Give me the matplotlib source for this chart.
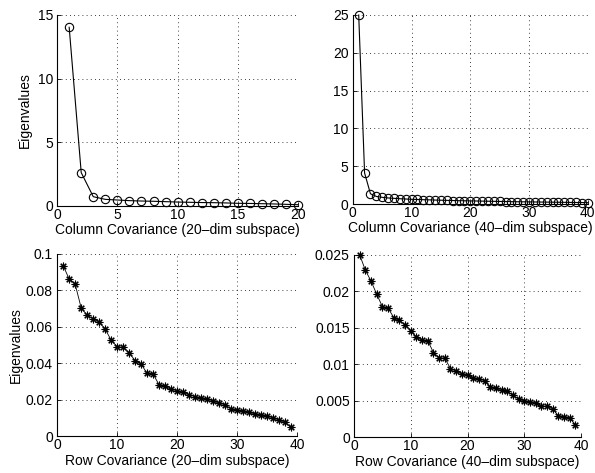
import matplotlib.pyplot as plt
from matplotlib.ticker import FuncFormatter

plt.rcParams['font.family'] = ['Liberation Sans', 'DejaVu Sans']
plt.rcParams['font.size'] = 10

# eigenvalues
col20 = [14.03, 2.62, 0.73, 0.52, 0.47, 0.42, 0.39, 0.37, 0.34, 0.31,
         0.29, 0.27, 0.26, 0.24, 0.21, 0.20, 0.18, 0.16, 0.13, 0.10]
col40 = [25.0, 4.1, 1.35, 1.0, 0.88, 0.80, 0.75, 0.70, 0.66, 0.62,
         0.60, 0.57, 0.55, 0.52, 0.50, 0.48, 0.46, 0.44, 0.43, 0.41,
         0.40, 0.38, 0.37, 0.35, 0.34, 0.33, 0.31, 0.30, 0.29, 0.28,
         0.27, 0.26, 0.25, 0.24, 0.23, 0.22, 0.21, 0.20, 0.19, 0.17]
row20 = [0.0936, 0.0863, 0.0835, 0.0705, 0.0663, 0.0645, 0.0626, 0.0588, 0.0527, 0.0491,
         0.0487, 0.0458, 0.0414, 0.0396, 0.0344, 0.0341, 0.0282, 0.0275, 0.0256, 0.0249,
         0.0240, 0.0227, 0.0216, 0.0209, 0.0203, 0.0192, 0.0180, 0.0172, 0.0150, 0.0143,
         0.0137, 0.0130, 0.0121, 0.0117, 0.0110, 0.0099, 0.0088, 0.0075, 0.0048]
row40 = [0.0250, 0.0229, 0.0214, 0.0196, 0.0179, 0.0177, 0.0164, 0.0160, 0.0154, 0.0146,
         0.0137, 0.0133, 0.0132, 0.0116, 0.0109, 0.0108, 0.0094, 0.0090, 0.0087, 0.0085,
         0.0081, 0.0080, 0.0077, 0.0069, 0.0067, 0.0064, 0.0063, 0.0057, 0.0052, 0.0050,
         0.0048, 0.0046, 0.0043, 0.0042, 0.0039, 0.0029, 0.0028, 0.0026, 0.0017]

xlabels = ['Column Covariance (20\u2013dim subspace)', 'Column Covariance (40\u2013dim subspace)',
           'Row Covariance (20\u2013dim subspace)', 'Row Covariance (40\u2013dim subspace)']


def style_axes(ax, xlim, xticks, ylim, yticks):
    ax.set_xlim(xlim)
    ax.set_ylim(ylim)
    ax.set_xticks(xticks)
    ax.set_yticks(yticks)
    ax.spines['top'].set_visible(False)
    ax.spines['right'].set_visible(False)
    ax.spines['left'].set_linewidth(0.8)
    ax.spines['bottom'].set_linewidth(0.8)
    ax.tick_params(direction='in', length=3, width=0.6)
    ax.tick_params(axis='x', pad=1.5)
    ax.tick_params(axis='y', pad=3)
    ax.grid(True, color='black', linestyle=(0, (1, 4)), linewidth=0.6)
    ax.set_axisbelow(True)


fig = plt.figure(figsize=(5.95, 4.73), dpi=100)

ax1 = fig.add_axes([0.096, 0.5645, 0.405, 0.404])
ax1.plot(range(1, len(col20) + 1), col20, 'k-', lw=0.8, marker='o', mfc='none',
         mec='black', ms=6, mew=0.8, clip_on=False, zorder=3)
style_axes(ax1, (0, 20), [0, 5, 10, 15, 20], (0, 15), [0, 5, 10, 15])
ax1.set_ylabel('Eigenvalues', labelpad=4)
ax1.set_xlabel(xlabels[0], labelpad=1)

ax2 = fig.add_axes([0.593, 0.5687, 0.395, 0.3996])
ax2.plot(range(1, len(col40) + 1), col40, 'k-', lw=0.8, marker='o', mfc='none',
         mec='black', ms=6, mew=0.8, clip_on=False, zorder=3)
style_axes(ax2, (0, 40), [0, 10, 20, 30, 40], (0, 25), [0, 5, 10, 15, 20, 25])
ax2.set_xlabel(xlabels[1], labelpad=1)

star = (8, 2, 0)

ax3 = fig.add_axes([0.096, 0.0782, 0.403, 0.385])
ax3.plot(range(1, len(row20) + 1), row20, 'k-', lw=0.6, marker=star,
         ms=5.5, mew=0.8, mec='black', clip_on=False, zorder=3)
style_axes(ax3, (0, 40), [0, 10, 20, 30, 40], (0, 0.1), [0, 0.02, 0.04, 0.06, 0.08, 0.1])
ax3.yaxis.set_major_formatter(FuncFormatter(lambda v, p: '0' if v == 0 else ('%g' % round(v, 3))))
ax3.set_ylabel('Eigenvalues', labelpad=2)
ax3.set_xlabel(xlabels[2], labelpad=1.5)

ax4 = fig.add_axes([0.595, 0.0761, 0.3815, 0.385])
ax4.plot(range(1, len(row40) + 1), row40, 'k-', lw=0.6, marker=star,
         ms=5.5, mew=0.8, mec='black', clip_on=False, zorder=3)
style_axes(ax4, (0, 40), [0, 10, 20, 30, 40], (0, 0.025),
           [0, 0.005, 0.01, 0.015, 0.02, 0.025])
ax4.yaxis.set_major_formatter(FuncFormatter(lambda v, p: '0' if v == 0 else ('%g' % round(v, 4))))
ax4.set_xlabel(xlabels[3], labelpad=1.5)

fig.savefig('out.png', dpi=100)
